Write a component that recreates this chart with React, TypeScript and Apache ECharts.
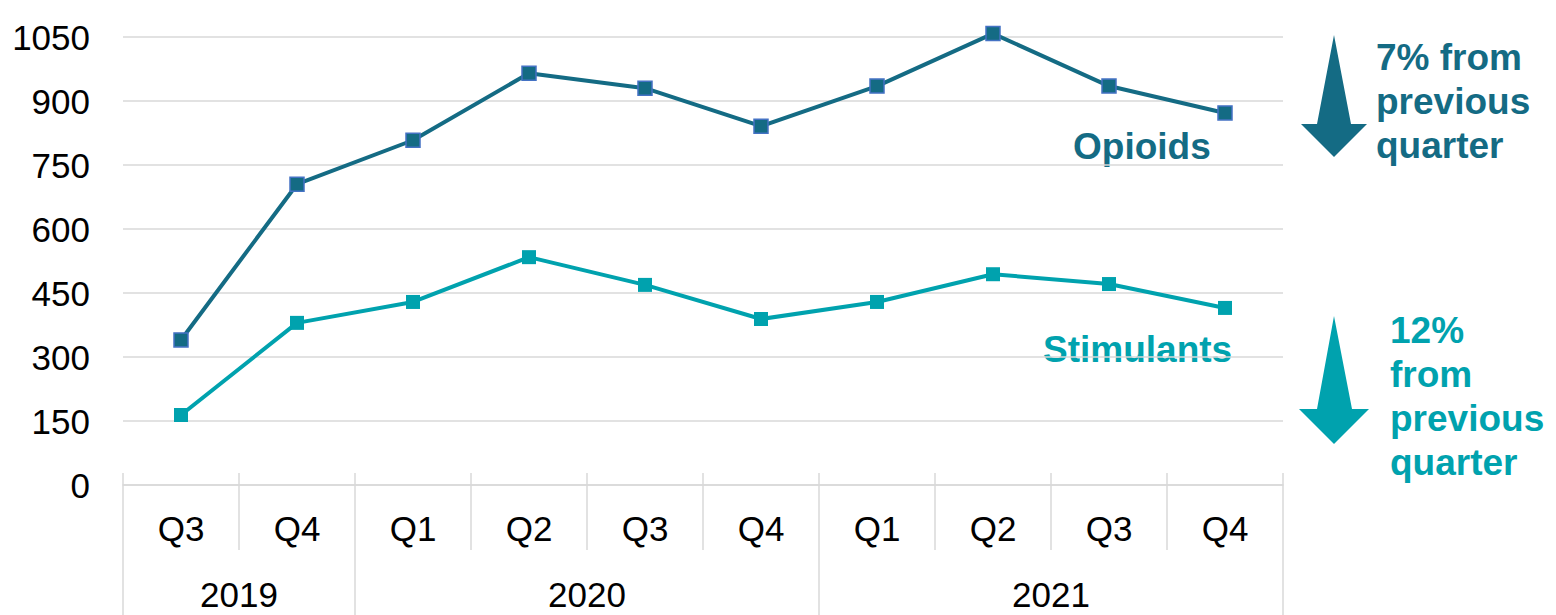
import React, { useEffect, useRef } from "react";
import * as echarts from "echarts";

const quarters = ["Q3", "Q4", "Q1", "Q2", "Q3", "Q4", "Q1", "Q2", "Q3", "Q4"];
const years = ["2019", "2020", "2021"];
const quartersPerYear = [2, 4, 4];
const opioids = [340, 705, 808, 965, 930, 841, 935, 1058, 935, 872];
const stimulants = [164, 380, 429, 534, 469, 389, 429, 494, 471, 415];
const yTicks = [0, 150, 300, 450, 600, 750, 900, 1050];

const OPI = "#146B84";
const STI = "#00A2AE";
const GRID = "#D9D9D9";
const FONT = "Arial, 'Liberation Sans', sans-serif";
const FS = 35;
const BFS = 37;

export default function App() {
  const ref = useRef<HTMLDivElement>(null);
  useEffect(() => {
    if (!ref.current) return;
    const chart = echarts.init(ref.current, null, { renderer: "svg" });
    const bounds: number[] = [0];
    quartersPerYear.forEach((n) => bounds.push(bounds[bounds.length - 1] + n));
    const centers = years.map((_, i) => (bounds[i] + bounds[i + 1]) / 2);

    chart.setOption({
      animation: false,
      grid: { left: 123, right: 273, top: 37, bottom: 130, containLabel: false },
      xAxis: [
        {
          type: "category",
          data: quarters,
          boundaryGap: true,
          axisLine: { show: true, lineStyle: { color: GRID, width: 1.5 } },
          axisTick: { show: true, interval: 0, length: 65, lineStyle: { color: GRID, width: 1.5 } },
          axisLabel: { color: "#000", fontSize: FS, fontFamily: FONT, margin: 26, interval: 0 },
        },
        {
          type: "category",
          data: quarters,
          boundaryGap: true,
          position: "bottom",
          axisLine: { show: false },
          axisTick: { show: true, inside: true, interval: 0, length: 12, lineStyle: { color: GRID, width: 1.5 } },
          axisLabel: { show: false },
        },
        {
          type: "value",
          min: 0,
          max: bounds[bounds.length - 1],
          position: "bottom",
          offset: 65,
          splitLine: { show: false },
          axisLine: { show: false },
          axisTick: {
            show: true,
            length: 70,
            customValues: bounds,
            lineStyle: { color: GRID, width: 1.5 },
          },
          axisLabel: {
            show: true,
            customValues: centers,
            formatter: (v: number) => years[centers.indexOf(v)] ?? "",
            color: "#000",
            fontSize: FS,
            fontFamily: FONT,
            margin: 27,
          },
        },
      ],
      yAxis: {
        type: "value",
        min: 0,
        max: 1050,
        interval: 150,
        axisLine: { show: false },
        axisTick: { show: false },
        splitLine: { show: true, lineStyle: { color: GRID, width: 1.5 } },
        axisLabel: {
          color: "#000",
          fontSize: FS,
          fontFamily: FONT,
          margin: 33,
          formatter: (v: number) => (yTicks.includes(v) ? String(v) : ""),
        },
      },
      series: [
        {
          name: "Opioids",
          type: "line",
          data: opioids,
          clip: false,
          symbol: "rect",
          symbolSize: 14,
          lineStyle: { color: OPI, width: 4 },
          itemStyle: { color: OPI, borderColor: "#4472C4", borderWidth: 1.5 },
          z: 3,
        },
        {
          name: "Stimulants",
          type: "line",
          data: stimulants,
          clip: false,
          symbol: "rect",
          symbolSize: 14,
          lineStyle: { color: STI, width: 4 },
          itemStyle: { color: STI },
          z: 2,
        },
      ],
      graphic: [
        {
          type: "text",
          left: 1073,
          top: 128,
          style: { text: "Opioids", fill: OPI, font: `bold ${BFS}px ${FONT}` },
        },
        {
          type: "text",
          left: 1043,
          top: 331,
          style: { text: "Stimulants", fill: STI, font: `bold ${BFS}px ${FONT}` },
        },
        {
          type: "polygon",
          shape: {
            points: [
              [1334, 35],
              [1351, 124],
              [1367, 124],
              [1334, 157],
              [1301, 124],
              [1317, 124],
            ],
          },
          style: { fill: OPI },
        },
        {
          type: "polygon",
          shape: {
            points: [
              [1334, 316],
              [1352, 409],
              [1369, 409],
              [1334, 444],
              [1299, 409],
              [1317, 409],
            ],
          },
          style: { fill: STI },
        },
        {
          type: "text",
          left: 1376,
          top: 35,
          style: {
            text: "7% from\nprevious\nquarter",
            fill: OPI,
            font: `bold ${BFS}px ${FONT}`,
            lineHeight: 44,
          },
        },
        {
          type: "text",
          left: 1390,
          top: 308,
          style: {
            text: "12%\nfrom\nprevious\nquarter",
            fill: STI,
            font: `bold ${BFS}px ${FONT}`,
            lineHeight: 44,
          },
        },
      ],
    });
    return () => chart.dispose();
  }, []);
  return (
    <div
      ref={ref}
      style={{ position: "fixed", left: 0, top: 0, width: 1556, height: 615, background: "#fff" }}
    />
  );
}
